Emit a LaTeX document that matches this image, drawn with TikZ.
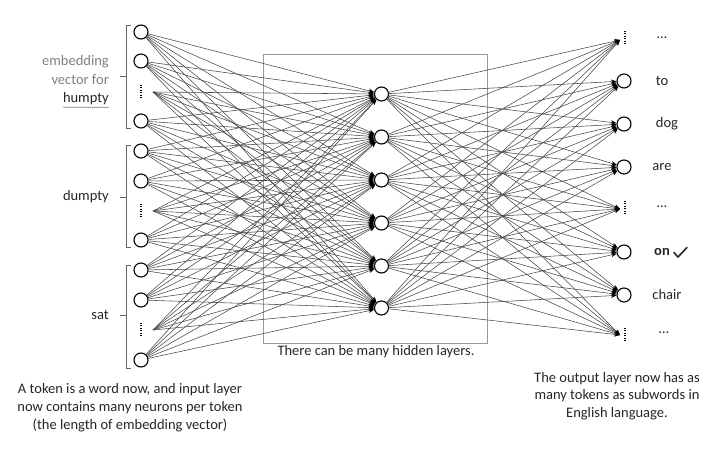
\documentclass[tikz,border=0pt]{standalone}
\usepackage{fontspec}
\setmainfont{Carlito}
\usetikzlibrary{arrows.meta,decorations.pathmorphing}
\begin{document}
\begin{tikzpicture}[x=1pt,y=-1pt,
  neuron/.style={draw, circle, minimum size=14pt, inner sep=0pt, line width=1.1pt, fill=white},
  conn/.style={draw=black!72, line width=0.55pt, -{Stealth[length=5.5pt,width=4.5pt,black]}},
  lbl/.style={font=\fontsize{14.5}{18}\selectfont, text=black!85, inner sep=0pt},
  grylbl/.style={lbl, text=black!50},
  brk/.style={draw=black!60, line width=0.8pt},
  dotsv/.style={draw=black, line width=1.2pt, dash pattern=on 1pt off 1.4pt}
]
\useasboundingbox (0,0) rectangle (716,457);

% hidden layer box
\draw[draw=black!40, line width=0.8pt] (263,54) rectangle (487,343);

% input neurons
\foreach \n/\y in {i1/32, i2/61, i3/121, i4/151, i5/181, i6/240, i7/270, i8/300, i9/360}
  \node[neuron] (\n) at (141,\y) {};
\coordinate (d1) at (153,92);
\coordinate (d2) at (153,211);
\coordinate (d3) at (153,330);
\foreach \y in {92,211,330}
  \draw[dotsv] (141,\y-7) -- (141,\y+7);

% hidden neurons
\foreach \n/\y in {h1/94, h2/137, h3/180, h4/223, h5/266, h6/308}
  \node[neuron] (\n) at (381.5,\y) {};

% output neurons
\foreach \n/\y in {o1/81, o2/124, o3/167, o4/252, o5/295}
  \node[neuron] (\n) at (624,\y) {};
\coordinate (od1) at (620,40);
\coordinate (od2) at (620,209);
\coordinate (od3) at (620,335);
\foreach \y in {38,208,335}
  \draw[dotsv] (625,\y-7) -- (625,\y+7);

% connectors
\foreach \a in {i1,i2,i3,i4,i5,i6,i7,i8,i9,d1,d2,d3}
  \foreach \b in {h1,h2,h3,h4,h5,h6}
    \draw[conn] (\a) -- (\b);
\foreach \a in {h1,h2,h3,h4,h5,h6}
  \foreach \b in {od1,o1,o2,o3,od2,o4,o5,od3}
    \draw[conn] (\a) -- (\b);

% brackets
\foreach \t/\b/\m in {25/128/76, 145/247/197, 265/368/315}{
  \draw[brk] (131,\t) -- (126,\t) -- (126,\b) -- (131,\b);
  \draw[brk] (126,\m) -- (120,\m);
}

% left labels
\node[grylbl, anchor=east] (e1) at (109,62) {embedding};
\node[grylbl, anchor=east] (e2) at (109,80) {vector for};
\node[lbl, anchor=east] (e3) at (109,99) {humpty};
\draw[red!75, line width=0.4pt, decorate, decoration={snake, amplitude=0.5pt, segment length=2pt}]
  ([yshift=-4.5pt]e3.base west) -- ([yshift=-4.5pt]e3.base east);
\node[lbl, anchor=east] (e4) at (109,197) {dumpty};
\node[lbl, anchor=east] (e5) at (109,315) {sat};

% output labels
\node[lbl] (t0) at (662,38) {\dots};
\node[lbl] (t1) at (662,81) {to};
\node[lbl] (t2) at (667,124) {dog};
\node[lbl] (t3) at (662,167) {are};
\node[lbl] (t4) at (662,207) {\dots};
\node[lbl, anchor=west] (t5) at (654,252) {\textbf{on}};
\draw[black!85, line width=1.6pt, line join=round, line cap=round]
  ([xshift=4pt,yshift=-0.5pt]t5.east) -- ++(4,4.5) -- ++(9,-9.5);
\node[lbl] (t6) at (667,295) {chair};
\node[lbl] (t7) at (664,333) {\dots};

% captions
\node[lbl] (hcap) at (376,352) {There can be many hidden layers.};
\node[lbl, align=center] (lcap) at (130,408) {A token is a word now, and input layer\\now contains many neurons per token\\(the length of embedding vector)};
\node[lbl, align=center, font=\fontsize{14.5}{17.5}\selectfont] (rcap) at (617,396) {The output layer now has as\\many tokens as subwords in\\English language.};
\end{tikzpicture}
\end{document}
